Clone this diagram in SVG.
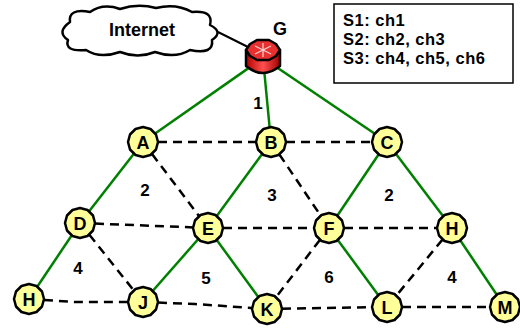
<svg xmlns="http://www.w3.org/2000/svg" xmlns:xlink="http://www.w3.org/1999/xlink" width="520" height="332" viewBox="0 0 520 332">
<style>
.green{stroke:#008000;stroke-width:2.5;fill:none}
.dash{stroke:#000;stroke-width:2.5;fill:none;stroke-dasharray:9 6}
.oct{fill:#ffff99;stroke:#000;stroke-width:2.5;stroke-linejoin:round}
.nl{font-family:"Liberation Sans",Arial,sans-serif;font-weight:bold;font-size:18px;text-anchor:middle;fill:#000}
.num{font-family:"Liberation Sans",Arial,sans-serif;font-weight:bold;font-size:17px;text-anchor:middle;fill:#000}
.leg{font-family:"Liberation Sans",Arial,sans-serif;font-weight:bold;font-size:16.5px;letter-spacing:0.5px;fill:#000}
</style>
<defs>
<polygon id="oct" class="oct" points="15,0 13,7.5 7.5,13 0,15 -7.5,13 -13,7.5 -15,0 -13,-7.5 -7.5,-13 0,-15 7.5,-13 13,-7.5"/>
<linearGradient id="rbody" x1="0" y1="0" x2="1" y2="0">
<stop offset="0" stop-color="#b00000"/>
<stop offset="0.5" stop-color="#ff5050"/>
<stop offset="1" stop-color="#a00000"/>
</linearGradient>
</defs>
<rect width="520" height="332" fill="#fff"/>
<g id="connectors">
<line x1="218" y1="32" x2="252" y2="49" stroke="#000" stroke-width="2"/>
<line class="green" x1="263" y1="58" x2="143" y2="142"/>
<line class="green" x1="263" y1="58" x2="271" y2="142"/>
<line class="green" x1="263" y1="58" x2="387" y2="142"/>
<line class="green" x1="143" y1="142" x2="80" y2="223"/>
<line class="green" x1="80" y1="223" x2="29" y2="299"/>
<line class="green" x1="271" y1="142" x2="208" y2="228"/>
<line class="green" x1="208" y1="228" x2="143" y2="302"/>
<line class="green" x1="208" y1="228" x2="267" y2="309"/>
<line class="green" x1="387" y1="142" x2="329" y2="228"/>
<line class="green" x1="329" y1="228" x2="387" y2="307"/>
<line class="green" x1="387" y1="142" x2="452" y2="228"/>
<line class="green" x1="452" y1="228" x2="505" y2="307"/>
<line class="dash" x1="143" y1="142" x2="271" y2="142"/>
<line class="dash" x1="271" y1="142" x2="387" y2="142"/>
<line class="dash" x1="143" y1="142" x2="208" y2="228"/>
<line class="dash" x1="271" y1="142" x2="329" y2="228"/>
<line class="dash" x1="80" y1="223" x2="208" y2="228"/>
<line class="dash" x1="208" y1="228" x2="329" y2="228"/>
<line class="dash" x1="329" y1="228" x2="452" y2="228"/>
<line class="dash" x1="80" y1="223" x2="143" y2="302"/>
<line class="dash" x1="329" y1="228" x2="267" y2="309"/>
<line class="dash" x1="452" y1="228" x2="387" y2="307"/>
<polyline class="dash" points="29,299 75,302 143,302"/>
<polyline class="dash" points="143,302 195,304 267,309"/>
<line class="dash" x1="267" y1="309" x2="387" y2="307"/>
<line class="dash" x1="387" y1="307" x2="505" y2="307"/>
</g>
<g id="labels">
<text class="num" x="258" y="109">1</text>
<text class="num" x="145" y="196">2</text>
<text class="num" x="272" y="201">3</text>
<text class="num" x="389" y="201">2</text>
<text class="num" x="78" y="274">4</text>
<text class="num" x="206" y="284">5</text>
<text class="num" x="329" y="283">6</text>
<text class="num" x="452" y="283">4</text>
</g>
<g id="internet">
<path d="M70 22 Q68 8 90 12 Q103 3 120 9 Q138 3 156 8 Q176 3 192 12 Q214 10 210 25 Q224 32 212 40 Q214 55 190 50 Q175 59 155 52 Q138 59 120 52 Q100 59 86 50 Q64 52 68 40 Q56 32 70 22 Z" fill="#fff" stroke="#000" stroke-width="2.5" stroke-linejoin="round"/>
<text x="142" y="36" font-family="Liberation Sans, Arial, sans-serif" font-weight="bold" font-size="18" text-anchor="middle">Internet</text>
</g>
<g id="node-G">
<path d="M246 50 L246 66 Q263 80 280 66 L280 50 Z" fill="url(#rbody)" stroke="#000" stroke-width="2.5" stroke-linejoin="round"/>
<polygon points="250,44 257,40 269,40 276,44 280,50 276,56 269,60 257,60 250,56 246,50" fill="#e83030" stroke="#000" stroke-width="2.5" stroke-linejoin="round"/>
<g stroke="#fff" stroke-width="1.2" opacity="0.8">
<line x1="255" y1="46" x2="271" y2="54"/>
<line x1="255" y1="54" x2="271" y2="46"/>
<line x1="263" y1="43" x2="263" y2="57"/>
</g>
<text x="280" y="35" font-family="Liberation Sans, Arial, sans-serif" font-weight="bold" font-size="18" text-anchor="middle">G</text>
</g>
<g id="node-A" transform="translate(143,142)"><use xlink:href="#oct"/><text class="nl" y="6.5">A</text></g>
<g id="node-B" transform="translate(271,142)"><use xlink:href="#oct"/><text class="nl" y="6.5">B</text></g>
<g id="node-C" transform="translate(387,142)"><use xlink:href="#oct"/><text class="nl" y="6.5">C</text></g>
<g id="node-D" transform="translate(80,223)"><use xlink:href="#oct"/><text class="nl" y="6.5">D</text></g>
<g id="node-E" transform="translate(208,228)"><use xlink:href="#oct"/><text class="nl" y="6.5">E</text></g>
<g id="node-F" transform="translate(329,228)"><use xlink:href="#oct"/><text class="nl" y="6.5">F</text></g>
<g id="node-H2" transform="translate(452,228)"><use xlink:href="#oct"/><text class="nl" y="6.5">H</text></g>
<g id="node-H1" transform="translate(29,299)"><use xlink:href="#oct"/><text class="nl" y="6.5">H</text></g>
<g id="node-J" transform="translate(143,302)"><use xlink:href="#oct"/><text class="nl" y="6.5">J</text></g>
<g id="node-K" transform="translate(267,309)"><use xlink:href="#oct"/><text class="nl" y="6.5">K</text></g>
<g id="node-L" transform="translate(387,307)"><use xlink:href="#oct"/><text class="nl" y="6.5">L</text></g>
<g id="node-M" transform="translate(505,307)"><use xlink:href="#oct"/><text class="nl" y="6.5">M</text></g>
<g id="legend">
<rect x="334" y="4" width="179" height="79" fill="#fff" stroke="#000" stroke-width="1.5"/>
<text class="leg" x="343" y="26">S1: ch1</text>
<text class="leg" x="343" y="45">S2: ch2, ch3</text>
<text class="leg" x="343" y="64">S3: ch4, ch5, ch6</text>
</g>
</svg>
